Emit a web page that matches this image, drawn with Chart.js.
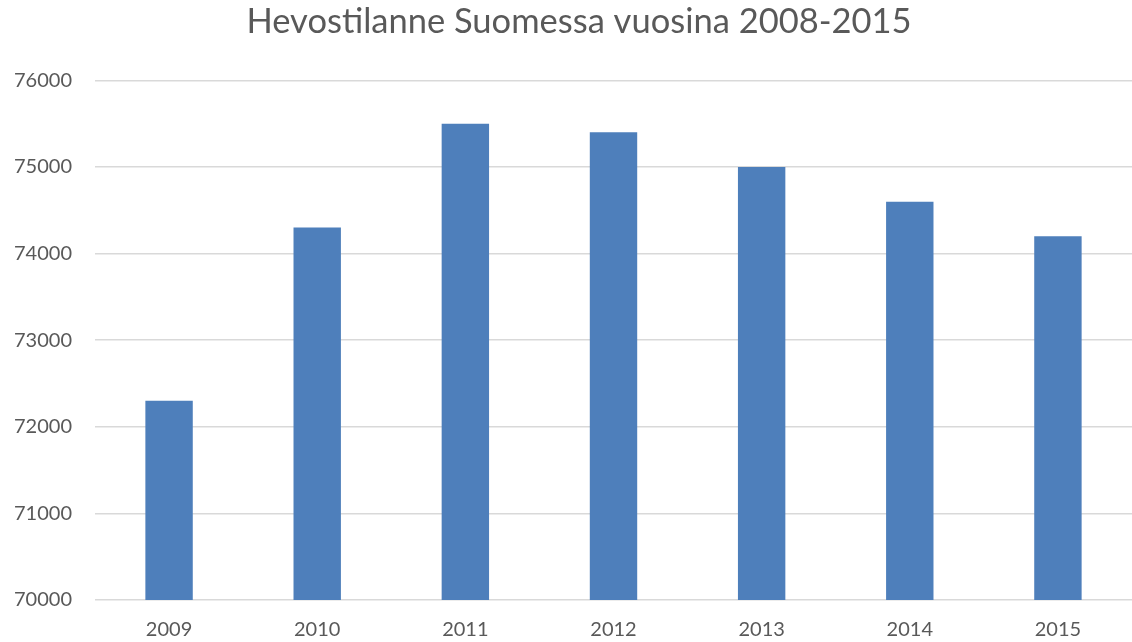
<!DOCTYPE html>
<html>
<head>
<meta charset="utf-8">
<script src="https://cdn.jsdelivr.net/npm/chart.js@4/dist/chart.umd.min.js"></script>
<style>
  html, body { margin: 0; padding: 0; background: #fff; }
  #wrap { width: 1132px; height: 642px; }
</style>
</head>
<body>
<div id="wrap"><canvas id="horses"></canvas></div>
<script>
const YEARS = ["2009", "2010", "2011", "2012", "2013", "2014", "2015"];
const HORSES = [72300, 74300, 75500, 75400, 75000, 74600, 74200];
const Y_MIN = 70000;
const Y_MAX = 76000;
const Y_STEP = 1000;

const TEXT = "#595959";
const GRID = "#d9d9d9";
const BAR = "#4e7fbb";

// title in the original sits centred a bit right of the canvas centre
const shiftTitle = {
  id: "shiftTitle",
  afterLayout(chart) {
    if (chart.titleBlock) chart.titleBlock.left = 26;
  }
};

new Chart(document.getElementById("horses"), {
  type: "bar",
  data: {
    labels: YEARS,
    datasets: [{
      label: "Hevoset",
      data: HORSES,
      backgroundColor: BAR,
      borderWidth: 0,
      barPercentage: 0.32,
      categoryPercentage: 1
    }]
  },
  options: {
    responsive: true,
    maintainAspectRatio: false,
    animation: false,
    plugins: {
      legend: { display: false },
      tooltip: { enabled: false },
      title: {
        display: true,
        text: "Hevostilanne Suomessa vuosina 2008-2015",
        color: TEXT,
        font: { family: "Lato", size: 34.5, weight: "normal", lineHeight: 1.2 },
        padding: { top: 1, bottom: 38 }
      }
    },
    scales: {
      x: {
        grid: { display: false, drawTicks: false },
        border: { display: false },
        ticks: { color: TEXT, font: { family: "Lato", size: 20 }, padding: 18 },
        afterFit: (s) => { s.height = 42; }
      },
      y: {
        min: Y_MIN,
        max: Y_MAX,
        grid: { color: GRID, lineWidth: 1.5, drawTicks: false },
        border: { display: false },
        ticks: {
          stepSize: Y_STEP,
          color: TEXT,
          font: { family: "Lato", size: 20 },
          padding: 23,
          callback: (v) => String(v)
        },
        afterFit: (s) => { s.width = 95; }
      }
    }
  },
  plugins: [shiftTitle]
});
</script>
</body>
</html>
